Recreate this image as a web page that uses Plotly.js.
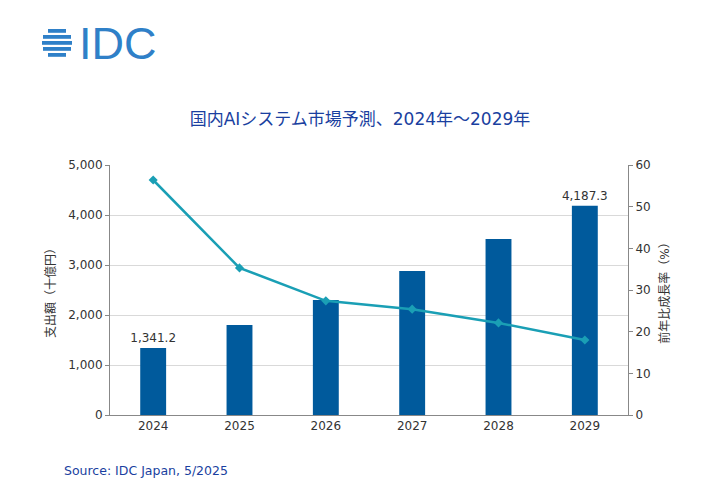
<!DOCTYPE html>
<html><head><meta charset="utf-8">
<script src="https://cdn.plot.ly/plotly-3.0.1.min.js"></script>
<style>body{margin:0;background:#fff}</style>
</head><body><div id="chart" style="width:720px;height:492px"></div>
<script>
var years = ['2024', '2025', '2026', '2027', '2028', '2029'];
var spending = [1341.2, 1800, 2300, 2880, 3520, 4187.3];
var growth = [56.4, 35.3, 27.4, 25.4, 22.1, 18.0];
var barLabels = ['1,341.2', '', '', '', '', '4,187.3'];

var font = 'Verdana, "DejaVu Sans", "Noto Sans CJK JP", sans-serif';

var traces = [
  { x: years, y: spending, type: 'bar', marker: {color: '#005a9c'}, width: 0.3,
    text: barLabels, textposition: 'outside', cliponaxis: false, constraintext: 'none',
    textfont: {size: 12, color: '#333'}, hoverinfo: 'y', showlegend: false },
  { x: years, y: growth, yaxis: 'y2', type: 'scatter', mode: 'lines+markers',
    line: {color: '#1a9fb5', width: 2.5}, marker: {color: '#1a9fb5', size: 7, symbol: 'diamond'},
    showlegend: false }
];

// plot area is 518 x 250 px, logo placed relative to it
function px(x) { return (x - 110) / 518; }
function py(y) { return (415 - y) / 250; }

var stripeW = [18, 28, 30, 28, 18];
var shapes = stripeW.map(function(w, i) {
  var y = 29 + i * 6;
  return {type: 'rect', xref: 'paper', yref: 'paper', layer: 'above',
    x0: px(57 - w / 2), x1: px(57 + w / 2), y0: py(y + 3.8), y1: py(y),
    fillcolor: '#2f80c8', line: {width: 0}};
});

Plotly.newPlot('chart', traces, {
  width: 720, height: 492,
  margin: {l: 110, r: 92, t: 165, b: 77},
  font: {family: font, size: 12, color: '#333'},
  plot_bgcolor: '#fff', paper_bgcolor: '#fff',
  title: {text: '国内AIシステム市場予測、2024年～2029年', x: 0.5, xanchor: 'center', y: 0.77,
          font: {size: 17, color: '#1a3fa0', family: font}},
  xaxis: {showline: true, linecolor: '#888', ticks: 'outside', ticklen: 0, tickfont: {size: 12}},
  yaxis: {range: [0, 5000], dtick: 1000, tickformat: ',d', showline: true, linecolor: '#888',
          gridcolor: '#d9d9d9', zeroline: false, ticks: 'outside', tickcolor: '#888', ticklen: 4,
          title: {text: '支出額（十億円）', font: {size: 12}, standoff: 10}},
  yaxis2: {range: [0, 60], dtick: 10, overlaying: 'y', side: 'right', showline: true, linecolor: '#888',
           showgrid: false, zeroline: false, ticks: 'outside', tickcolor: '#888', ticklen: 4,
           title: {text: '前年比成長率（%）', font: {size: 12}, standoff: 10}},
  annotations: [
    {xref: 'paper', yref: 'paper', x: px(62), y: py(470), xanchor: 'left', yanchor: 'middle', showarrow: false,
     text: 'Source: IDC Japan, 5/2025', font: {size: 12.5, color: '#1a3fa0'}},
    {xref: 'paper', yref: 'paper', x: px(77), y: py(43), xanchor: 'left', yanchor: 'middle', showarrow: false,
     text: 'IDC', font: {size: 45, color: '#2f80c8', family: 'Arial, "Liberation Sans", sans-serif'}}
  ],
  shapes: shapes
}, {displayModeBar: false});
</script></body></html>
